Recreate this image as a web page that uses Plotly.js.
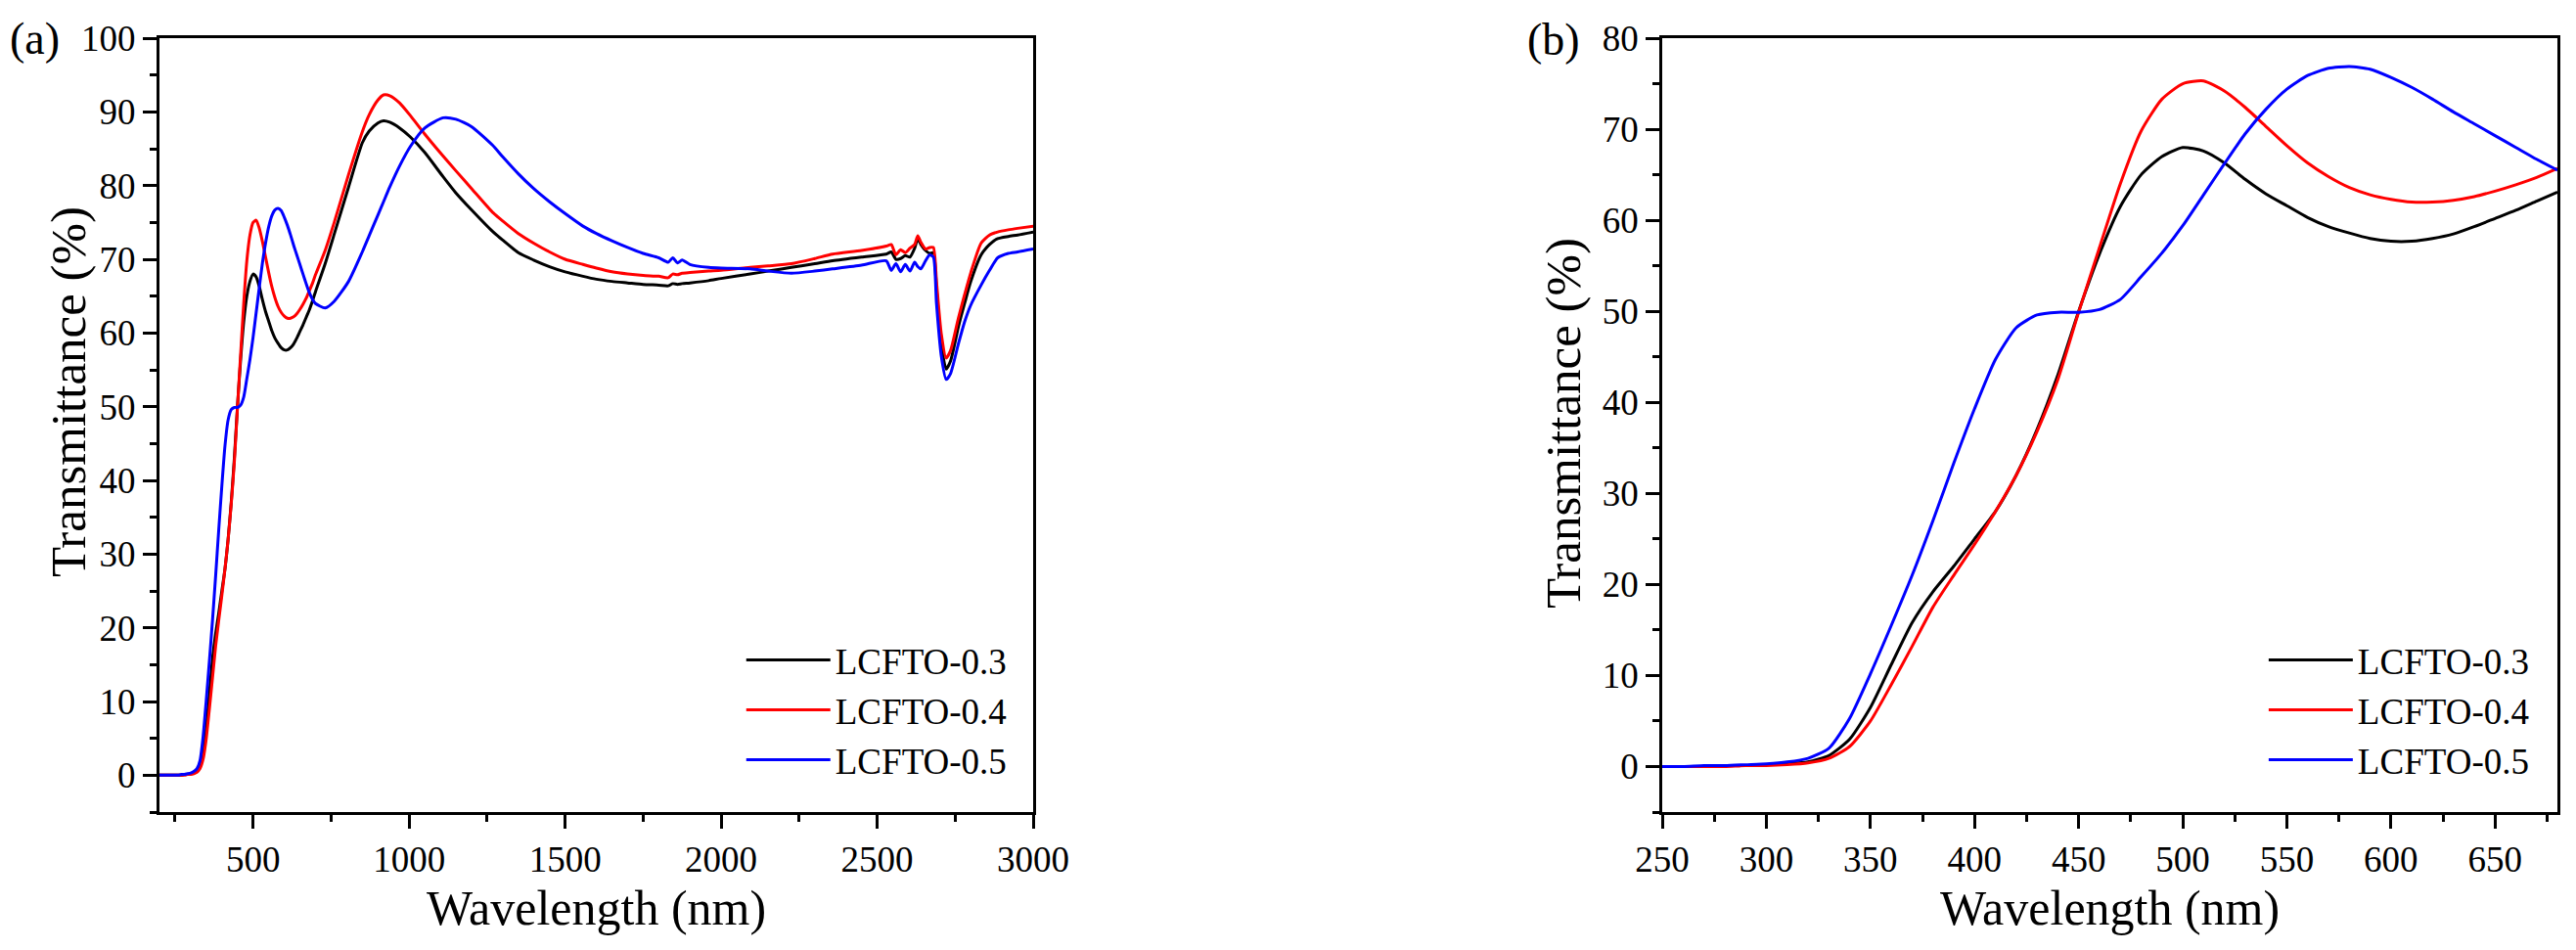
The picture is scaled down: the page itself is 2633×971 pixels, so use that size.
<!DOCTYPE html>
<html>
<head>
<meta charset="utf-8">
<script src="https://cdn.plot.ly/plotly-3.0.1.min.js"></script>
<style>
  html, body { margin: 0; padding: 0; background: #fff; }
  #chart { width: 2633px; height: 971px; }
</style>
</head>
<body>
<div id="chart"></div>
<script>
// visible range, 10 nm steps (used by both panels)
var wlVis = [200, 210, 220, 230, 240, 250, 260, 270, 280, 290, 300, 310, 320, 330, 340, 350, 360, 370, 380, 390,
  400, 410, 420, 430, 440, 450, 460, 470, 480, 490, 500, 510, 520, 530, 540, 550, 560, 570, 580, 590,
  600, 610, 620, 630, 640, 650, 660, 670, 680];
var t03Vis = [0, 0, 0, 0, 0, 0.0, 0.0, 0.0, 0.1, 0.1, 0.2, 0.3, 0.5, 1.2, 3.0, 6.5, 11.2, 15.8, 19.2, 22.0,
  25.0, 28.0, 32.0, 37.0, 43.0, 50.0, 56.3, 61.5, 65.0, 67.0, 68.0, 67.6, 66.3, 64.5, 62.9, 61.6, 60.3, 59.3, 58.6, 58.0,
  57.7, 57.7, 58.0, 58.5, 59.3, 60.2, 61.1, 62.1, 63.1];
var t04Vis = [0, 0, 0, 0, 0, 0.0, 0.0, 0.0, 0.0, 0.1, 0.1, 0.2, 0.4, 0.9, 2.2, 5.0, 9.0, 13.2, 17.5, 21.0,
  24.4, 28.0, 32.0, 36.8, 42.5, 49.9, 57.0, 64.0, 69.8, 73.3, 75.0, 75.3, 74.2, 72.4, 70.3, 68.2, 66.3, 64.8, 63.6, 62.8,
  62.3, 62.0, 62.0, 62.2, 62.6, 63.2, 63.9, 64.7, 65.7];
var t05Vis = [0, 0, 0, 0, 0, 0.0, 0.0, 0.1, 0.1, 0.2, 0.3, 0.5, 0.9, 2.0, 5.3, 10.2, 15.5, 21.0, 27.0, 33.3,
  39.3, 44.7, 48.2, 49.6, 49.9, 49.9, 50.2, 51.3, 53.8, 56.4, 59.4, 62.8, 66.2, 69.5, 72.2, 74.4, 75.9, 76.7, 76.9, 76.6,
  75.7, 74.6, 73.3, 71.9, 70.6, 69.3, 68.0, 66.7, 65.5];

// near infrared part, only in panel (a)
var wlNir = [690, 700, 731, 760, 806, 850, 872, 900, 918, 938, 970, 1004, 1050, 1109, 1150, 1200, 1267, 1300, 1350, 1399,
  1450, 1500, 1557, 1600, 1650, 1700, 1750, 1800, 1830, 1845, 1860, 1875, 1900, 1960, 2000, 2093, 2150, 2225, 2300, 2357,
  2450, 2529, 2545, 2560, 2575, 2590, 2605, 2620, 2630, 2640, 2655, 2668, 2680, 2690, 2705, 2721, 2735, 2760, 2780, 2800,
  2833, 2860, 2886, 2920, 2950, 3000];
var t03Nir = [64.3, 65.6, 69.4, 73.4, 79.8, 85.8, 87.4, 88.5, 88.8, 88.6, 87.8, 86.6, 84.5, 81.2, 79.0, 76.7, 73.8, 72.6, 70.9, 69.9,
  69.0, 68.3, 67.7, 67.3, 67.0, 66.8, 66.6, 66.5, 66.4, 66.7, 66.6, 66.7, 66.8, 67.1, 67.4, 68.0, 68.4, 68.9, 69.4, 69.8,
  70.3, 70.7, 71.0, 70.0, 70.1, 70.5, 70.3, 71.5, 72.8, 72.0, 71.2, 70.8, 70.9, 66.0, 58.5, 55.1, 56.2, 60.8, 64.0, 67.0,
  70.6, 72.0, 72.8, 73.1, 73.3, 73.7];
var t04Nir = [66.7, 67.9, 71.2, 75.0, 81.5, 87.3, 89.6, 91.6, 92.3, 92.2, 91.2, 89.5, 87.0, 84.0, 82.0, 79.6, 76.4, 75.2, 73.5, 72.2,
  71.0, 70.0, 69.3, 68.8, 68.3, 68.0, 67.8, 67.7, 67.5, 68.0, 67.9, 68.1, 68.2, 68.4, 68.5, 68.9, 69.1, 69.4, 70.1, 70.7,
  71.2, 71.8, 72.0, 70.6, 71.3, 70.9, 71.5, 72.0, 73.2, 72.3, 71.4, 71.6, 71.6, 67.0, 60.0, 56.6, 57.6, 62.0, 65.2, 68.2,
  72.2, 73.3, 73.7, 74.0, 74.2, 74.5];
var t05Nir = [64.6, 64.0, 63.4, 64.3, 67.0, 71.0, 73.2, 76.0, 77.8, 79.8, 82.7, 85.3, 87.8, 89.2, 89.0, 88.0, 85.5, 83.9, 81.6, 79.6,
  77.8, 76.2, 74.5, 73.5, 72.5, 71.6, 70.8, 70.2, 69.6, 70.2, 69.5, 69.9, 69.3, 68.9, 68.8, 68.7, 68.4, 68.1, 68.4, 68.7,
  69.2, 69.8, 68.5, 69.4, 68.3, 69.3, 68.4, 69.6, 69.0, 68.7, 69.8, 70.6, 70.3, 64.0, 57.0, 53.7, 54.5, 58.5, 61.5, 63.8,
  66.5, 68.5, 70.2, 70.8, 71.0, 71.4];

var names = ['LCFTO-0.3', 'LCFTO-0.4', 'LCFTO-0.5'];
var colors = ['#000000', '#ff0000', '#0000ff'];

var serif = 'Liberation Serif, Times New Roman, serif';
var visY = [t03Vis, t04Vis, t05Vis];
var nirY = [t03Nir, t04Nir, t05Nir];

var traces = [];
for (var i = 0; i < 3; i++) {
  traces.push({
    x: wlVis.concat(wlNir), y: visY[i].concat(nirY[i]),
    name: names[i], type: 'scatter', mode: 'lines',
    line: {color: colors[i], width: 3, shape: 'spline', smoothing: 0.6},
    xaxis: 'x', yaxis: 'y', legend: 'legend'
  });
}
for (var j = 0; j < 3; j++) {
  traces.push({
    x: wlVis, y: visY[j],
    name: names[j], type: 'scatter', mode: 'lines',
    line: {color: colors[j], width: 3, shape: 'spline', smoothing: 0.6},
    xaxis: 'x2', yaxis: 'y2', legend: 'legend2'
  });
}

function ax(extra) {
  var a = {
    showline: true, linecolor: '#000', linewidth: 3, mirror: true,
    ticks: 'outside', ticklen: 14, tickwidth: 3, tickcolor: '#000',
    showgrid: false, zeroline: false,
    tickfont: {family: serif, size: 37, color: '#000'}
  };
  for (var k in extra) a[k] = extra[k];
  return a;
}

function minorTicks(step) {
  return {ticks: 'outside', ticklen: 7, tickwidth: 3, tickcolor: '#000', dtick: step, tick0: 0};
}

var xTitle = {text: 'Wavelength (nm)', font: {family: serif, size: 50, color: '#000'}, standoff: 12};

var legendStyle = function (xpos) {
  return {
    x: xpos, xanchor: 'right', y: 0.168, yanchor: 'bottom',
    bgcolor: 'rgba(0,0,0,0)', borderwidth: 0, itemwidth: 86,
    font: {family: serif, size: 37, color: '#000'},
    tracegroupgap: 0
  };
};

function label(txt, x, y, size, angle) {
  return {text: txt, xref: 'paper', yref: 'paper', x: x, y: y, xanchor: angle ? 'center' : 'left', yanchor: 'middle',
    textangle: angle || 0, showarrow: false, font: {family: serif, size: size, color: '#000'}};
}

var layout = {
  width: 2633, height: 971,
  margin: {l: 0, r: 0, t: 0, b: 0},
  paper_bgcolor: '#fff', plot_bgcolor: '#fff',
  showlegend: true,
  xaxis: ax({domain: [0.0619, 0.4011], range: [200, 3000], tick0: 0, dtick: 500, minor: minorTicks(250), title: xTitle}),
  yaxis: ax({domain: [0.1452, 0.9598], range: [-5, 100], tick0: 0, dtick: 10, minor: minorTicks(5)}),
  xaxis2: ax({domain: [0.6453, 0.9928], anchor: 'y2', range: [250, 680], tick0: 0, dtick: 50, minor: minorTicks(25), title: xTitle}),
  yaxis2: ax({domain: [0.1452, 0.9598], anchor: 'x2', range: [-5, 80], tick0: 0, dtick: 10, minor: minorTicks(5)}),
  legend: legendStyle(0.393),
  legend2: legendStyle(0.984),
  annotations: [
    label('(a)', 0.0030, 0.959, 46),
    label('(b)', 0.5922, 0.958, 46),
    label('Transmittance (%)', 0.0266, 0.587, 51, -90),
    label('Transmittance (%)', 0.6069, 0.555, 51, -90)
  ]
};

Plotly.newPlot('chart', traces, layout, {staticPlot: true});
</script>
</body>
</html>
